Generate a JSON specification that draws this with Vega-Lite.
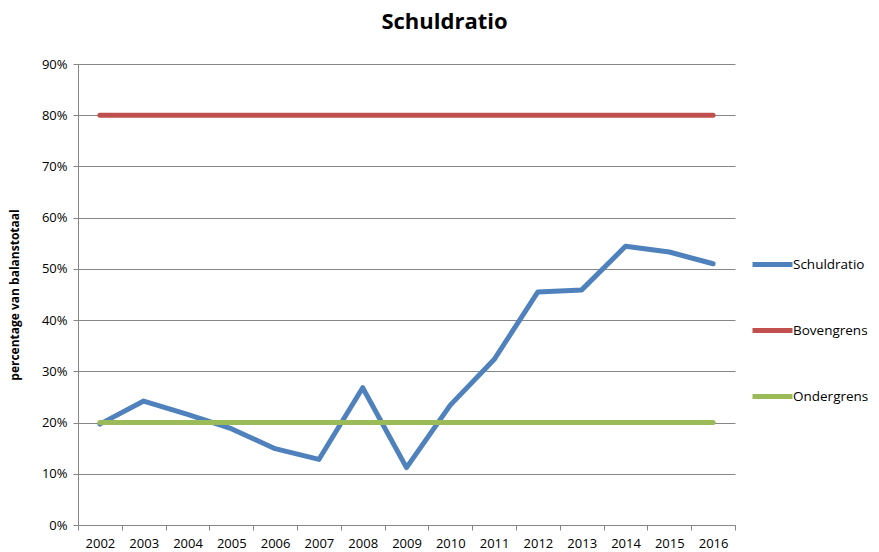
{
  "$schema": "https://vega.github.io/schema/vega-lite/v6.json",
  "width": 657,
  "height": 461,
  "autosize": "none",
  "padding": {"left": 78, "top": 64, "right": 144, "bottom": 27},
  "background": "white",
  "title": {
    "text": "Schuldratio",
    "font": "Open Sans",
    "fontSize": 22,
    "fontWeight": "bold",
    "color": "#000000",
    "anchor": "middle",
    "frame": "group",
    "dx": 38,
    "offset": 24
  },
  "data": {
    "values": [
      {"jaar": "2002", "reeks": "Schuldratio", "waarde": 0.197},
      {"jaar": "2003", "reeks": "Schuldratio", "waarde": 0.242},
      {"jaar": "2004", "reeks": "Schuldratio", "waarde": 0.216},
      {"jaar": "2005", "reeks": "Schuldratio", "waarde": 0.188},
      {"jaar": "2006", "reeks": "Schuldratio", "waarde": 0.149},
      {"jaar": "2007", "reeks": "Schuldratio", "waarde": 0.128},
      {"jaar": "2008", "reeks": "Schuldratio", "waarde": 0.268},
      {"jaar": "2009", "reeks": "Schuldratio", "waarde": 0.112},
      {"jaar": "2010", "reeks": "Schuldratio", "waarde": 0.234},
      {"jaar": "2011", "reeks": "Schuldratio", "waarde": 0.323},
      {"jaar": "2012", "reeks": "Schuldratio", "waarde": 0.455},
      {"jaar": "2013", "reeks": "Schuldratio", "waarde": 0.459},
      {"jaar": "2014", "reeks": "Schuldratio", "waarde": 0.544},
      {"jaar": "2015", "reeks": "Schuldratio", "waarde": 0.533},
      {"jaar": "2016", "reeks": "Schuldratio", "waarde": 0.510},
      {"jaar": "2002", "reeks": "Bovengrens", "waarde": 0.8},
      {"jaar": "2003", "reeks": "Bovengrens", "waarde": 0.8},
      {"jaar": "2004", "reeks": "Bovengrens", "waarde": 0.8},
      {"jaar": "2005", "reeks": "Bovengrens", "waarde": 0.8},
      {"jaar": "2006", "reeks": "Bovengrens", "waarde": 0.8},
      {"jaar": "2007", "reeks": "Bovengrens", "waarde": 0.8},
      {"jaar": "2008", "reeks": "Bovengrens", "waarde": 0.8},
      {"jaar": "2009", "reeks": "Bovengrens", "waarde": 0.8},
      {"jaar": "2010", "reeks": "Bovengrens", "waarde": 0.8},
      {"jaar": "2011", "reeks": "Bovengrens", "waarde": 0.8},
      {"jaar": "2012", "reeks": "Bovengrens", "waarde": 0.8},
      {"jaar": "2013", "reeks": "Bovengrens", "waarde": 0.8},
      {"jaar": "2014", "reeks": "Bovengrens", "waarde": 0.8},
      {"jaar": "2015", "reeks": "Bovengrens", "waarde": 0.8},
      {"jaar": "2016", "reeks": "Bovengrens", "waarde": 0.8},
      {"jaar": "2002", "reeks": "Ondergrens", "waarde": 0.2},
      {"jaar": "2003", "reeks": "Ondergrens", "waarde": 0.2},
      {"jaar": "2004", "reeks": "Ondergrens", "waarde": 0.2},
      {"jaar": "2005", "reeks": "Ondergrens", "waarde": 0.2},
      {"jaar": "2006", "reeks": "Ondergrens", "waarde": 0.2},
      {"jaar": "2007", "reeks": "Ondergrens", "waarde": 0.2},
      {"jaar": "2008", "reeks": "Ondergrens", "waarde": 0.2},
      {"jaar": "2009", "reeks": "Ondergrens", "waarde": 0.2},
      {"jaar": "2010", "reeks": "Ondergrens", "waarde": 0.2},
      {"jaar": "2011", "reeks": "Ondergrens", "waarde": 0.2},
      {"jaar": "2012", "reeks": "Ondergrens", "waarde": 0.2},
      {"jaar": "2013", "reeks": "Ondergrens", "waarde": 0.2},
      {"jaar": "2014", "reeks": "Ondergrens", "waarde": 0.2},
      {"jaar": "2015", "reeks": "Ondergrens", "waarde": 0.2},
      {"jaar": "2016", "reeks": "Ondergrens", "waarde": 0.2}
    ]
  },
  "mark": {"type": "line", "strokeWidth": 5, "strokeCap": "round", "strokeJoin": "round"},
  "encoding": {
    "x": {
      "field": "jaar",
      "type": "ordinal",
      "bandPosition": 0.5,
      "scale": {"type": "band", "paddingInner": 0, "paddingOuter": 0},
      "axis": {
        "title": null,
        "labelAngle": 0,
        "labelFont": "Open Sans",
        "labelFontSize": 13,
        "labelColor": "#000000",
        "labelPadding": 7,
        "tickBand": "extent",
        "tickSize": 5,
        "tickColor": "#868686",
        "domainColor": "#868686",
        "grid": false
      }
    },
    "y": {
      "field": "waarde",
      "type": "quantitative",
      "scale": {"domain": [0, 0.9], "nice": false},
      "axis": {
        "title": "percentage van balanstotaal",
        "titleFont": "Open Sans",
        "titleFontSize": 12,
        "titleFontWeight": "bold",
        "titleColor": "#000000",
        "titlePadding": 20,
        "format": ".0%",
        "values": [0, 0.1, 0.2, 0.3, 0.4, 0.5, 0.6, 0.7, 0.8, 0.9],
        "labelFont": "Open Sans",
        "labelFontSize": 13,
        "labelColor": "#000000",
        "labelPadding": 6,
        "tickSize": 5,
        "tickColor": "#868686",
        "domainColor": "#868686",
        "gridColor": "#868686",
        "gridWidth": 1
      }
    },
    "color": {
      "field": "reeks",
      "type": "nominal",
      "sort": ["Schuldratio", "Bovengrens", "Ondergrens"],
      "scale": {
        "domain": ["Schuldratio", "Bovengrens", "Ondergrens"],
        "range": ["#4F81BD", "#C0504D", "#9BBB59"]
      },
      "legend": {
        "title": null,
        "orient": "none",
        "legendX": 672,
        "legendY": 178,
        "symbolType": "stroke",
        "symbolSize": 1600,
        "symbolStrokeWidth": 5,
        "labelFont": "Open Sans",
        "labelFontSize": 13.5,
        "labelColor": "#000000",
        "labelOffset": -2,
        "rowPadding": 33
      }
    }
  },
  "config": {"view": {"stroke": null}}
}
